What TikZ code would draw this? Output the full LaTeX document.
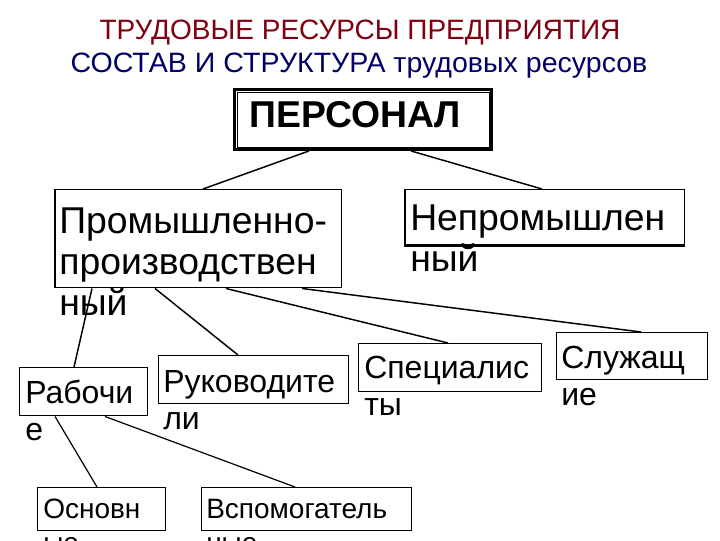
\documentclass[tikz,border=0pt]{standalone}
\usepackage{fontspec}
\setmainfont{Liberation Sans}
\usepackage{xcolor}
\usepackage{tikz}
\usetikzlibrary{calc}

\definecolor{titlered}{RGB}{128,0,16}
\definecolor{titleblue}{RGB}{0,0,102}

\begin{document}
\begin{tikzpicture}[x=0.75pt,y=-0.75pt,
    box/.style={draw,anchor=north west,inner sep=0pt,line width=1.1pt},
    txt/.style={anchor=base west,inner sep=0pt,align=left},
    big/.style={font=\fontsize{28}{30.75}\selectfont},
    mid/.style={font=\fontsize{24}{27.5}\selectfont},
    small/.style={font=\fontsize{21}{25.5}\selectfont},
    link/.style={line width=1.1pt}]
    \useasboundingbox (0,0) rectangle (720,540);
    \clip (0,0) rectangle (720,540);
    % headings
    \node[small,text=titlered,anchor=base] (t1) at (360,39) {ТРУДОВЫЕ РЕСУРСЫ ПРЕДПРИЯТИЯ};
    \node[small,text=titleblue,anchor=base,xscale=1.02] (t2) at (359,72) {СОСТАВ И СТРУКТУРА трудовых ресурсов};
    % boxes
    \node[box,line width=2.2pt,minimum width=192.75pt,minimum height=45pt] (pers) at (233,88) {};
    \draw[line width=0.6pt] ($(pers.north west)+(4,4)$) rectangle ($(pers.south east)+(-4,-4)$);
    \node[box,minimum width=214.5pt,minimum height=73.5pt] (prom) at (55,189) {};
    \node[box,minimum width=209.25pt,minimum height=41.25pt] (neprom) at (405,189) {};
    \draw[line width=2.2pt] (prom.north west) -- (prom.south west);
    \draw[line width=2.2pt] (neprom.north west) -- (neprom.south west) -- (neprom.south east);
    \node[box,minimum width=96pt,minimum height=36pt] (rab) at (19,367) {};
    \node[box,minimum width=142.5pt,minimum height=36pt] (ruk) at (158,355) {};
    \node[box,minimum width=137.25pt,minimum height=36pt] (spec) at (358,343) {};
    \node[box,minimum width=113.25pt,minimum height=35.25pt] (sluzh) at (556,332) {};
    \node[box,minimum width=96pt,minimum height=32.25pt] (osn) at (37,487) {};
    \node[box,minimum width=157.5pt,minimum height=32.25pt] (vsp) at (201,487) {};
    % texts (base = last line)
    \node[font=\bfseries\fontsize{28}{32}\selectfont,anchor=base,inner sep=0pt] (perstxt) at (355,127) {ПЕРСОНАЛ};
    \node[txt,big] (promtxt) at (59,315) {Промышленно-\\производствен\\ный};
    \node[txt,big] (nepromtxt) at (410,271) {Непромышлен\\ный};
    \node[txt,mid] (rabtxt) at (25,440) {Рабочи\\е};
    \node[txt,mid] (ruktxt) at (163,429) {Руководите\\ли};
    \node[txt,mid] (spectxt) at (364,415) {Специалис\\ты};
    \node[txt,mid] (sluzhtxt) at (561,405) {Служащ\\ие};
    \node[txt,small] (osntxt) at (43,552) {Основн\\ые};
    \node[txt,small] (vsptxt) at (206,552) {Вспомогатель\\ные};
    % links
    \path[link,draw]
    ($(pers.south west)+(76,0)$) edge ($(prom.north west)+(148,0)$)
    ($(pers.south west)+(178,0)$) edge ($(neprom.north west)+(137,0)$)
    ($(prom.south west)+(37,0)$) edge ($(rab.north west)+(55,0)$)
    ($(prom.south west)+(100,0)$) edge ($(ruk.north west)+(80,0)$)
    ($(prom.south west)+(171,0)$) edge ($(spec.north west)+(90,0)$)
    ($(prom.south west)+(247,0)$) edge ($(sluzh.north west)+(85,0)$);
    \path[link,draw,line width=0.9pt]
    ($(rab.south west)+(36,0)$) edge ($(osn.north west)+(60,0)$)
    ($(rab.south west)+(86,0)$) edge ($(vsp.north west)+(94,0)$);
\end{tikzpicture}
\end{document}
